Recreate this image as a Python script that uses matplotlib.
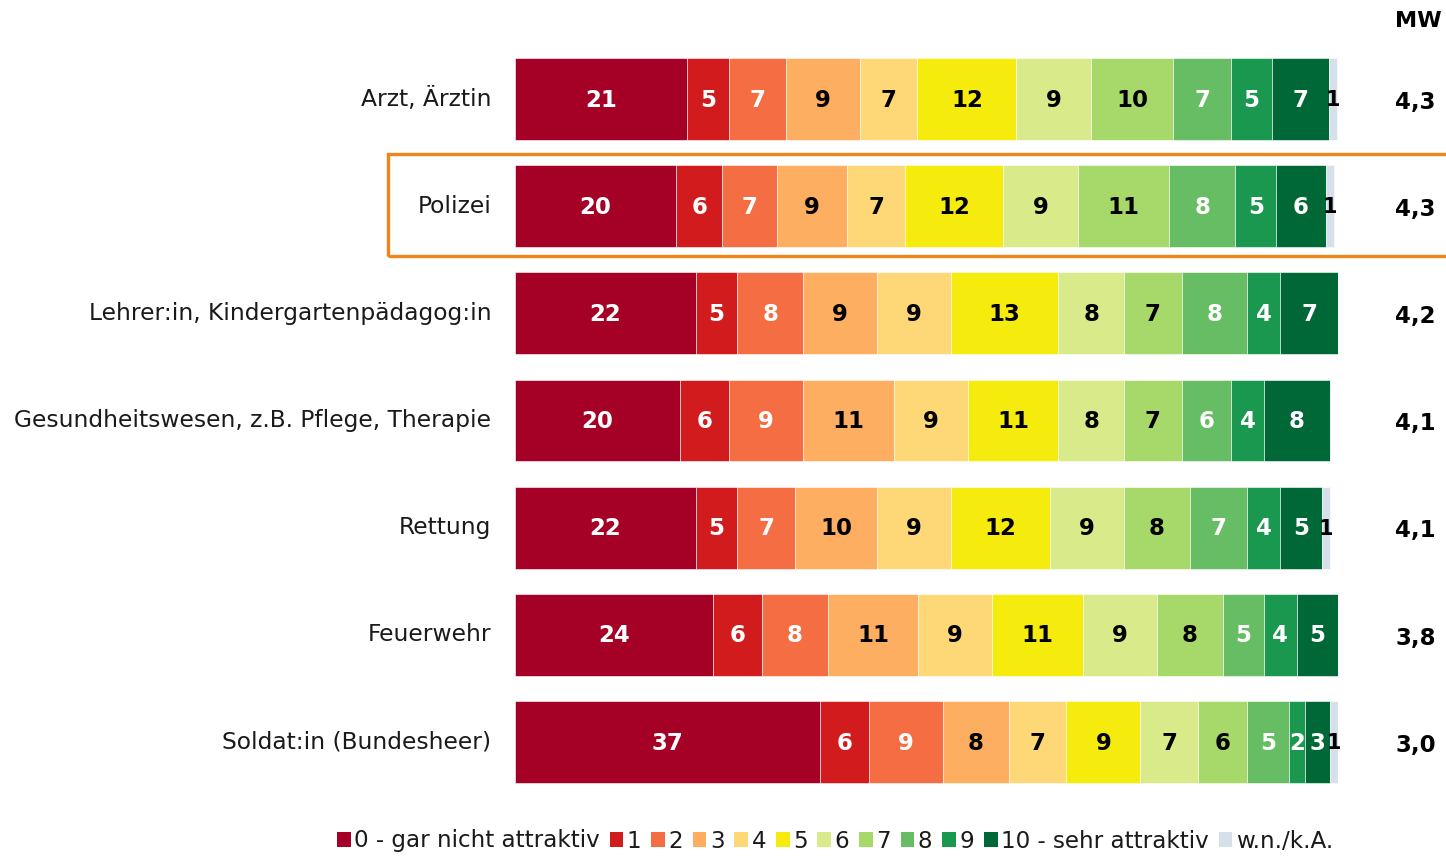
import matplotlib
matplotlib.use("Agg")
import matplotlib.pyplot as plt
from matplotlib.patches import Rectangle, Patch
import numpy as np

categories = ["Arzt, Ärztin", "Polizei", "Lehrer:in, Kindergartenpädagog:in",
              "Gesundheitswesen, z.B. Pflege, Therapie", "Rettung", "Feuerwehr",
              "Soldat:in (Bundesheer)"]
series_names = ["0 - gar nicht attraktiv", "1", "2", "3", "4", "5", "6", "7", "8", "9",
                "10 - sehr attraktiv", "w.n./k.A."]
# percentages (labels are rounded)
v0  = [20.9, 19.6, 22, 20, 22, 24, 37]
v1  = [5.1, 5.6, 5, 6, 5, 6, 6]
v2  = [6.9, 6.6, 8, 9, 7, 8, 9]
v3  = [9.0, 8.6, 9, 11, 10, 11, 8]
v4  = [7.0, 7.0, 9, 9, 9, 9, 7]
v5  = [12.0, 11.9, 13, 11, 12, 11, 9]
v6  = [9.1, 9.1, 8, 8, 9, 9, 7]
v7  = [10.0, 11.1, 7, 7, 8, 8, 6]
v8  = [7.0, 8.0, 8, 6, 7, 5, 5]
v9  = [5.0, 5.0, 4, 4, 4, 4, 2]
v10 = [6.9, 6.0, 7, 8, 5, 5, 3]
vna = [1.0, 1.0, 0, 0, 1, 0, 1]
mw = ["4,3", "4,3", "4,2", "4,1", "4,1", "3,8", "3,0"]

series = [v0, v1, v2, v3, v4, v5, v6, v7, v8, v9, v10, vna]
colors = ["#A50026", "#D21B1C", "#F46D43", "#FDAE61", "#FED877", "#F5EC0E",
          "#D9EA8B", "#A7D96A", "#66BD63", "#1A9850", "#006837", "#D6E0EA"]
text_colors = ["white", "white", "white", "black", "black", "black", "black",
               "black", "white", "white", "white", "black"]

FONT = "DejaVu Sans"
TXT = "#1a1a1a"
W, H = 1446, 857
fig = plt.figure(figsize=(W / 100, H / 100), dpi=100)
ax = fig.add_axes([515 / W, 1 - 795.6 / H, 823 / W, 750.2 / H])
ax.set_xlim(0, 100)
ax.set_ylim(6.5, -0.5)
ax.axis("off")

y = np.arange(len(categories))
bh = 0.765
left = np.zeros(len(categories))
for k, vals in enumerate(series):
    vals = np.array(vals, dtype=float)
    ax.barh(y, vals, left=left, height=bh, color=colors[k], edgecolor="white",
            linewidth=0.4, label=series_names[k])
    for i, v in enumerate(vals):
        if v <= 0:
            continue
        lab = f"{int(round(v))}"
        small = k == len(series) - 1
        ax.text(left[i] + v / 2, y[i] + 0.01, lab, ha="center", va="center",
                fontsize=15 if small else 16.5, fontweight="bold",
                color=text_colors[k], family=FONT)
    left += vals

# category labels
for i, c in enumerate(categories):
    ax.text(-2.9, y[i], c, ha="right", va="center", fontsize=16.8, family=FONT,
            color=TXT)

# MW column
fig.text(1418 / W, 1 - 21 / H, "MW", ha="center", va="center", fontsize=16,
         fontweight="bold", family=FONT, color="black")
for i, m in enumerate(mw):
    ax.text(109.4, y[i] + 0.03, m, ha="center", va="center", fontsize=16.5,
            fontweight="bold", family=FONT, color="black")

# highlight box around Polizei
fig.patches.append(Rectangle((388 / W, 1 - 256 / H), (W - 388 + 10) / W, 102 / H,
                             transform=fig.transFigure, fill=False,
                             edgecolor="#F0851B", linewidth=2.4, clip_on=False))

handles = [Patch(facecolor=colors[k], edgecolor="none") for k in range(len(series))]
fig.legend(handles, series_names, loc="center", bbox_to_anchor=(835 / W, 1 - 841 / H),
           ncol=len(series), frameon=False, handlelength=0.6, handleheight=0.6,
           handletextpad=0.15, columnspacing=0.42,
           prop={"family": FONT, "size": 16.6}, labelcolor=TXT)

fig.savefig("out.png", dpi=100)
